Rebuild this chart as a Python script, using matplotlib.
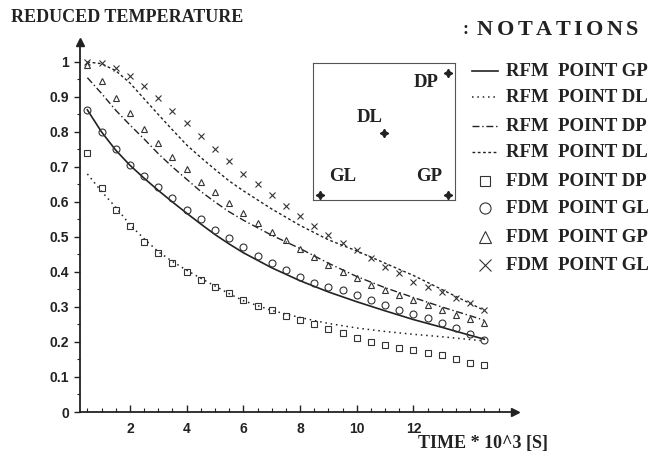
import numpy as np
import matplotlib.pyplot as plt
from matplotlib.lines import Line2D
from matplotlib.font_manager import FontProperties
from matplotlib.textpath import text_to_path

# time grid of the FDM points and of the RFM curves (10^3 s)
t_fdm = [0.5, 1.0, 1.5, 2.0, 2.5, 3.0, 3.5, 4.0, 4.5, 5.0, 5.5, 6.0, 6.5, 7.0, 7.5,
         8.0, 8.5, 9.0, 9.5, 10.0, 10.5, 11.0, 11.5, 12.0, 12.5, 13.0, 13.5, 14.0, 14.5]
t_rfm = [0.5, 1.0, 1.5, 2.0, 2.5, 3.0, 3.5, 4.0, 4.5, 5.0, 5.5,
         6.0, 7.0, 8.0, 9.0, 10.0, 11.0, 12.0, 13.0, 14.0, 14.5]

# RFM curves
rfm_gp = [0.863, 0.80, 0.748, 0.705, 0.668, 0.633, 0.60, 0.568, 0.537, 0.507, 0.48,
          0.455, 0.412, 0.375, 0.343, 0.315, 0.289, 0.264, 0.242, 0.219, 0.208]
rfm_dl_low = [0.68, 0.63, 0.585, 0.535, 0.495, 0.458, 0.43, 0.405, 0.382, 0.36, 0.338,
              0.318, 0.29, 0.27, 0.253, 0.24, 0.23, 0.222, 0.215, 0.207, 0.203]
rfm_dp = [0.955, 0.91, 0.862, 0.82, 0.78, 0.738, 0.70, 0.665, 0.63, 0.60, 0.572,
          0.548, 0.505, 0.467, 0.425, 0.387, 0.355, 0.327, 0.30, 0.275, 0.262]
rfm_dl_up = [1.0, 0.995, 0.975, 0.94, 0.895, 0.85, 0.806, 0.763, 0.727, 0.693, 0.66,
             0.632, 0.58, 0.533, 0.492, 0.46, 0.425, 0.39, 0.35, 0.31, 0.29]

# FDM points
fdm_dp = [0.74, 0.64, 0.577, 0.53, 0.486, 0.454, 0.426, 0.40, 0.377, 0.357, 0.34, 0.32,
          0.303, 0.291, 0.274, 0.262, 0.25, 0.236, 0.226, 0.211, 0.20, 0.192, 0.183,
          0.176, 0.169, 0.163, 0.152, 0.14, 0.134]
fdm_gl_o = [0.863, 0.80, 0.75, 0.706, 0.674, 0.643, 0.61, 0.577, 0.552, 0.52, 0.497, 0.471,
            0.446, 0.425, 0.406, 0.386, 0.368, 0.357, 0.349, 0.334, 0.32, 0.305, 0.29,
            0.28, 0.268, 0.255, 0.24, 0.222, 0.205]
fdm_gp = [0.99, 0.946, 0.897, 0.854, 0.809, 0.769, 0.729, 0.694, 0.657, 0.629, 0.597, 0.569,
          0.54, 0.514, 0.491, 0.466, 0.443, 0.42, 0.40, 0.383, 0.363, 0.349, 0.334,
          0.32, 0.306, 0.291, 0.277, 0.266, 0.254]
fdm_gl_x = [1.0, 0.997, 0.983, 0.96, 0.93, 0.897, 0.86, 0.826, 0.789, 0.75, 0.717, 0.68,
            0.65, 0.62, 0.589, 0.56, 0.531, 0.506, 0.483, 0.463, 0.44, 0.414, 0.397,
            0.371, 0.357, 0.343, 0.326, 0.311, 0.291]

y_ticks = [0, 0.1, 0.2, 0.3, 0.4, 0.5, 0.6, 0.7, 0.8, 0.9, 1]
y_labels = ['0', '0.1', '0.2', '0.3', '0.4', '0.5', '0.6', '0.7', '0.8', '0.9', '1']
x_ticks = [2, 4, 6, 8, 10, 12]

legend_title = 'NOTATIONS'
legend_labels = ['RFM  POINT GP', 'RFM  POINT DL', 'RFM  POINT DP', 'RFM  POINT DL',
                 'FDM  POINT DP', 'FDM  POINT GL', 'FDM  POINT GP', 'FDM  POINT GL']

W, H = 660, 461
INK = '#222222'
SERIF = 'Liberation Serif'
SANS = 'Liberation Sans'


def fx(px):
    return px / W


def fy(py):
    return 1 - py / H


fig = plt.figure(figsize=(6.6, 4.61), dpi=100)
ax = fig.add_axes([fx(80), fy(412), fx(515) - fx(80), fy(42) - fy(412)])
ax.set_xlim(0.24, 15.58)
ax.set_ylim(0, 1.057)

# line styles (shared with the legend)
styles = [
    dict(ls='-', lw=1.2),
    dict(ls=(0, (1, 2.5)), lw=1.1),
    dict(ls=(0, (5, 2, 1, 2)), lw=1.0),
    dict(ls=(0, (2, 1.8)), lw=1.0),
]
marks = [
    dict(marker='s', ms=4.5),
    dict(marker='o', ms=5),
    dict(marker='^', ms=5),
    dict(marker='x', ms=5),
]

for ys, st in zip([rfm_gp, rfm_dl_low, rfm_dp, rfm_dl_up], styles):
    ax.plot(t_rfm, ys, color=INK, **st)

for ys, mk in zip([fdm_dp, fdm_gl_o, fdm_gp, fdm_gl_x], marks):
    ax.plot(t_fdm, ys, ls='none', mfc='none', mec='#333333', mew=0.8, **mk)

for s in ['top', 'right']:
    ax.spines[s].set_visible(False)
for s in ['left', 'bottom']:
    ax.spines[s].set_linewidth(1.3)
    ax.spines[s].set_color(INK)

# axis arrows
ax.plot([0], [1], marker='^', ms=6, color=INK, transform=ax.transAxes, clip_on=False)
ax.plot([1], [0], marker='>', ms=6, color=INK, transform=ax.transAxes, clip_on=False)

ax.set_yticks(y_ticks)
ax.set_yticklabels(y_labels, fontfamily=SANS, fontweight='bold', fontsize=10)
ax.set_yticks(np.arange(0.05, 1.05, 0.1), minor=True)
ax.set_xticks(x_ticks)
ax.set_xticklabels([str(v) for v in x_ticks], fontfamily=SANS, fontweight='bold', fontsize=10)
ax.set_xticks(np.arange(0.5, 15.5, 0.5), minor=True)
ax.tick_params(axis='y', which='major', direction='out', length=4, width=1, pad=4, colors=INK)
ax.tick_params(axis='y', which='minor', direction='out', length=2, width=0.8, colors=INK)
ax.tick_params(axis='x', which='major', direction='in', length=5, width=1, pad=7, colors=INK)
ax.tick_params(axis='x', which='minor', direction='in', length=3, width=0.8, colors=INK)

fig.text(fx(11), fy(18), 'REDUCED TEMPERATURE', family=SERIF, weight='bold',
         fontsize=13, va='center', ha='left', color=INK)
fig.text(fx(548), fy(443), 'TIME * 10^3 [S]', family=SERIF, weight='bold',
         fontsize=13, va='center', ha='right', color=INK)

# legend, drawn by hand
fig.text(fx(463), fy(30), ':', family=SERIF, weight='bold', fontsize=13, va='center', color=INK)
# the title is slightly letter-spaced in the original
title_prop = FontProperties(family=SERIF, weight='bold', size=16)
px_x = 477.0
for ch in legend_title:
    fig.text(fx(px_x), fy(30), ch, fontproperties=title_prop, va='center', color=INK)
    w_pt = text_to_path.get_text_width_height_descent(ch, title_prop, ismath=False)[0]
    px_x += w_pt * 100 / 72 + 3.5

rows = [71, 97, 126, 152, 181, 208, 237, 265]
for i, (lab, yy) in enumerate(zip(legend_labels, rows)):
    if i < 4:
        fig.add_artist(Line2D([fx(472), fx(498)], [fy(yy), fy(yy)], color=INK,
                              transform=fig.transFigure, **styles[i]))
    else:
        fig.add_artist(Line2D([fx(485)], [fy(yy)], ls='none', mfc='none', mec='#333333',
                              mew=0.8, transform=fig.transFigure,
                              **dict(marks[i - 4], ms=marks[i - 4]['ms'] + 3)))
    fig.text(fx(506), fy(yy), lab, family=SERIF, weight='bold', fontsize=13.5,
             va='center', color=INK)

# inset sketch of the domain with the observation points
axi = fig.add_axes([fx(313), fy(200), fx(455) - fx(313), fy(63) - fy(200)])
axi.set_xlim(0, 1)
axi.set_ylim(0, 1)
axi.set_xticks([])
axi.set_yticks([])
for s in axi.spines.values():
    s.set_linewidth(0.8)
    s.set_color('#555555')
pts = {'GL': (0.05, 0.04), 'GP': (0.95, 0.04), 'DP': (0.95, 0.93), 'DL': (0.5, 0.49)}
txt = {'GL': (0.21, 0.17), 'GP': (0.82, 0.17), 'DP': (0.8, 0.86), 'DL': (0.4, 0.6)}
for k in pts:
    axi.plot(*pts[k], marker=(4, 1, 0), ms=6, color=INK, clip_on=False)
    axi.text(*txt[k], k, family=SERIF, weight='bold', fontsize=13.5, ha='center',
             va='center', color=INK)

fig.savefig('out.png', dpi=100)
